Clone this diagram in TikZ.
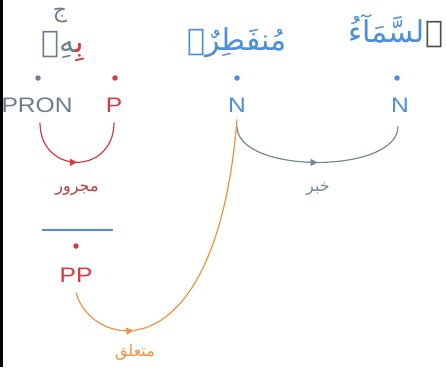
\documentclass[tikz,border=0pt]{standalone}
\usepackage{fontspec}
\setmainfont{Liberation Sans}
\newfontfamily\arabicfont[Script=Arabic]{DejaVu Sans}
\newfontfamily\tagfont[FakeStretch=1.17]{Liberation Sans}
\TeXXeTstate=1
\usepackage{tikz}
\usetikzlibrary{arrows.meta, positioning, decorations.markings}
\definecolor{pronblue}{HTML}{6B7D8F}
\definecolor{prepred}{HTML}{D93A40}
\definecolor{nounblue}{HTML}{4A8FDB}
\definecolor{relorange}{HTML}{F2913D}
\definecolor{arcgray}{HTML}{74879A}
\definecolor{labred}{HTML}{C0393B}
\definecolor{alifgray}{HTML}{4D4D4D}

\begin{document}
\begin{tikzpicture}[x=1pt, y=-1pt,
  word/.style={font=\arabicfont\fontsize{30}{34}\selectfont, inner sep=0pt},
  tag/.style={font=\tagfont\fontsize{21}{24}\selectfont, inner sep=0pt},
  dot/.style={circle, fill, inner sep=0pt, minimum size=5.5pt},
  rel/.style={font=\arabicfont\fontsize{16}{19}\selectfont, inner sep=0pt},
  link/.style={line width=1.2pt, postaction={decorate},
               decoration={markings, mark=at position #1 with {\arrow{Triangle[length=7pt, width=7pt]}}}},
]
  \useasboundingbox (0,0) rectangle (446,367);
  \fill[black] (0,0) rectangle (2.5,367);

  % words
  \node[word, nounblue, anchor=base east] (samaa) at (425,42) {\beginR لسَّمَآءُ\endR};
  \node[word, alifgray, anchor=base west] (alif) at (samaa.base east) {\beginR ٱ\endR};
  \node[word, nounblue, anchor=base] (munfatir) at (237,50) {\beginR مُنفَطِرٌۢ\endR};
  \node[word, pronblue, anchor=base east] (bihi) at (84,52) {\beginR بِهِۦ\endR};
  \node[word, prepred, anchor=base east] (bi) at (bihi.base east) {\beginR بِ^^^^200d\endR};
  \node[rel, pronblue, font=\arabicfont\fontsize{22}{25}\selectfont] (waqf) at (60,16) {\beginR ج\endR};

  % tags
  \node[dot, pronblue] (pron dot) at (38,78) {};
  \node[tag, pronblue] (pron) at (37,105) {PRON};
  \node[dot, prepred] (p dot) at (115,78) {};
  \node[tag, prepred] (p) at (114,105) {P};
  \node[dot, nounblue] (n1 dot) at (237,78) {};
  \node[tag, nounblue] (n1) at (237,105) {N};
  \node[dot, nounblue] (n2 dot) at (397,78) {};
  \node[tag, nounblue] (n2) at (400,105) {N};
  \node[dot, prepred] (pp dot) at (76,246) {};
  \node[tag, prepred] (pp) at (76,275) {PP};

  % relations
  \draw[link=0.5, prepred] ([xshift=3pt, yshift=-10pt]pron.south) .. controls +(0,53) and +(0,53) .. ([yshift=-10pt]p.south);
  \node[rel, labred] (majrur) at (77,190) {\beginR مجرور\endR};
  \draw[link=0.5, arcgray] ([yshift=-14pt]n1.south) .. controls +(0,48) and +(0,48) .. ([xshift=-2pt, yshift=-14pt]n2.south);
  \node[rel, arcgray] (khabar) at (318,189) {\beginR خبر\endR};
  \draw[nounblue, line width=1.2pt] (42,230) -- (113,230);
  \draw[link=0.23, relorange] ([yshift=-10pt]pp.south) .. controls +(15,57) and +(-21,258) .. ([yshift=-7pt]n1.south);
  \node[rel, relorange] (mutaallaq) at (135,352) {\beginR متعلق\endR};
\end{tikzpicture}
\end{document}
